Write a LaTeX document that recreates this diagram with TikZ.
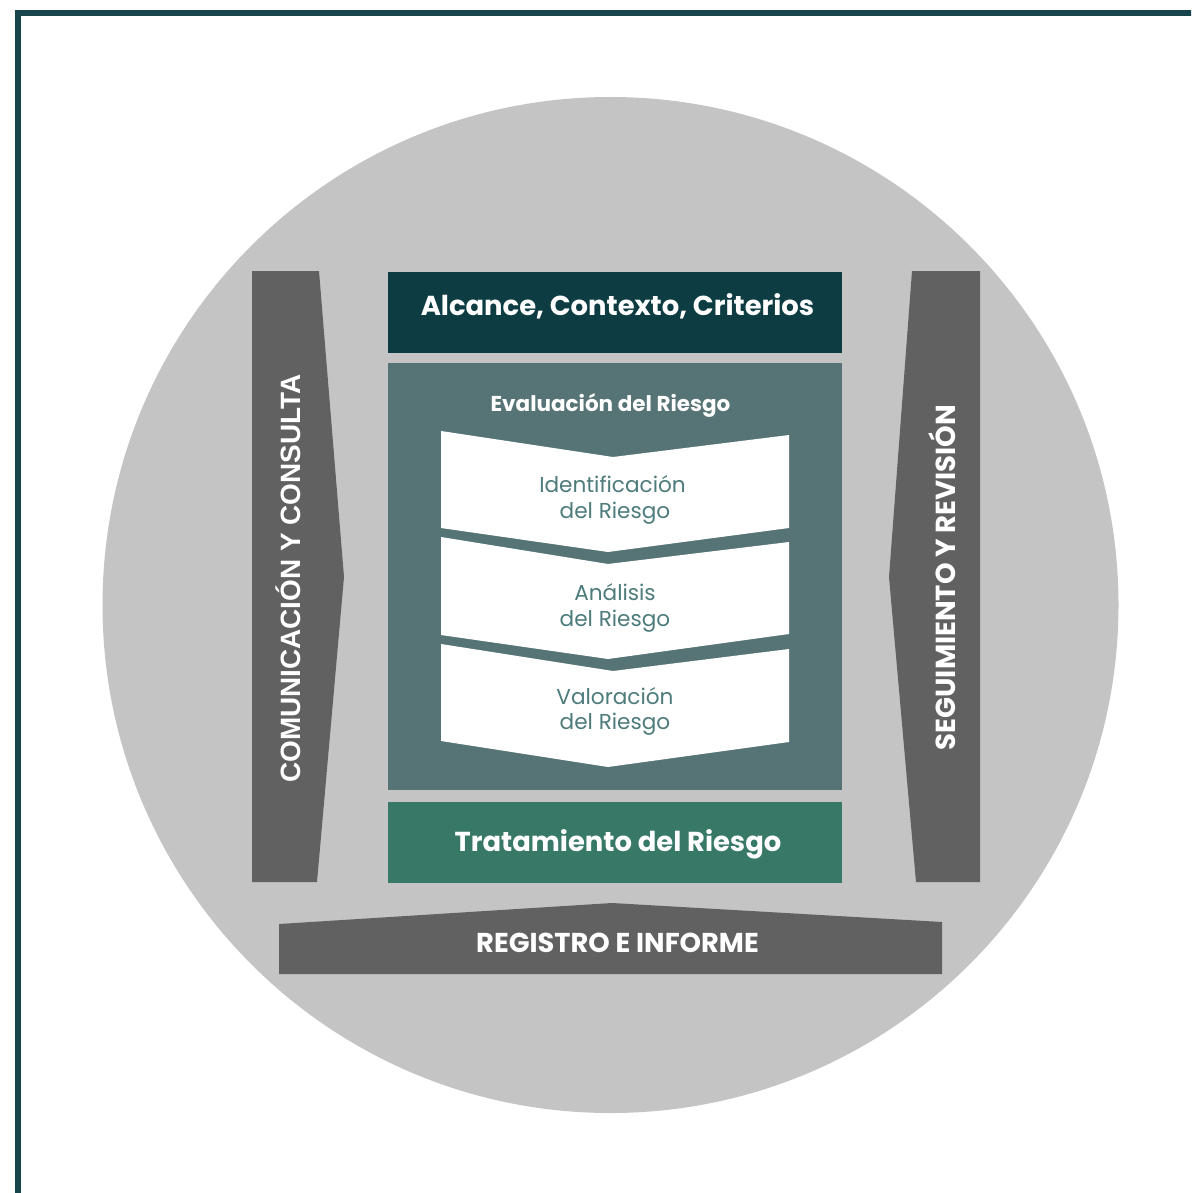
\documentclass[tikz,border=0pt]{standalone}
\usepackage{fontspec}
\setmainfont{Poppins}
\newfontfamily\libsans{Liberation Sans}
\definecolor{framecol}{HTML}{18444B}
\definecolor{circgray}{HTML}{C4C4C4}
\definecolor{arrowgray}{HTML}{616161}
\definecolor{topteal}{HTML}{0E3C43}
\definecolor{evalteal}{HTML}{567475}
\definecolor{treatgreen}{HTML}{377866}
\definecolor{chevtext}{HTML}{4E7B7B}
\begin{document}
\begin{tikzpicture}[x=1pt,y=-1pt,
  box/.style={minimum width=454pt, inner sep=0pt, outer sep=0pt, draw=none},
  boldtxt/.style={text=white, anchor=base, inner sep=0pt, font=\bfseries\fontsize{#1}{#1}\selectfont},
  chevtxt/.style={text=chevtext, anchor=base, inner sep=0pt, font=\fontsize{21.6}{21.6}\selectfont},
  chevshape/.style={fill=white},
  sideshape/.style={fill=arrowgray}
]
\useasboundingbox (0,0) rectangle (1191,1193);
\clip (0,0) rectangle (1191,1193);
\fill[white] (0,0) rectangle (1191,1193);
% frame
\draw[framecol, line width=5.5pt] (18,1210) -- (18,13) -- (1210,13);
% circle
\fill[circgray] (610.5,605) circle[radius=508];
% side arrows
\fill[sideshape] (252,271) -- (319,271) -- (344,577) -- (317,882) -- (252,882) -- cycle;
\fill[sideshape] (912,271) -- (980,271) -- (980,882) -- (916,882) -- (889,577) -- cycle;
\fill[sideshape] (279,924) -- (612,903) -- (942,922) -- (942,974) -- (279,974) -- cycle;
% boxes
\node[box, fill=topteal, minimum height=81pt] (alcance) at (615,312.5) {};
\node[box, fill=evalteal, minimum height=427pt] (eval) at (615,576.5) {};
\node[box, fill=treatgreen, minimum height=81pt] (trat) at (615,842.5) {};
% chevrons
\fill[chevshape] (441,431) -- (613,457) -- (789,435) -- (789,528) -- (608,552) -- (441,528) -- cycle;
\fill[chevshape] (441,537) -- (608,564) -- (789,542) -- (789,634) -- (608,659) -- (441,635) -- cycle;
\fill[chevshape] (441,644) -- (613,671) -- (789,649) -- (789,742) -- (608,767) -- (441,741) -- cycle;
% texts
\node[boldtxt=27.4] (talc) at (617.5,315) {Alcance, Contexto, Criterios};
\node[boldtxt=21.5] (teval) at (610.5,411) {Evaluación del Riesgo};
\node[boldtxt=27.4] (ttrat) at (618,851) {Tratamiento del Riesgo};
\node[boldtxt=27.3] (treg) at (617.5,952) {REGISTRO E INFORME};
\node[chevtxt] (c1a) at (612.5,492) {Identificación};
\node[chevtxt] (c1b) at (615,518) {del Riesgo};
\node[chevtxt] (c2a) at (615,600) {Análisis};
\node[chevtxt] (c2b) at (615,626) {del Riesgo};
\node[chevtxt] (c3a) at (615,704) {Valoración};
\node[chevtxt] (c3b) at (615,729) {del Riesgo};
\node[text=white, anchor=base, inner sep=0pt, rotate=90, font=\libsans\bfseries\fontsize{27.9}{27.9}\selectfont] (tcom) at (300,578.5) {COMUNICACIÓN Y CONSULTA};
\node[boldtxt=27.5, rotate=90] (tseg) at (955,577.5) {SEGUIMIENTO Y REVISIÓN};
\end{tikzpicture}
\end{document}
